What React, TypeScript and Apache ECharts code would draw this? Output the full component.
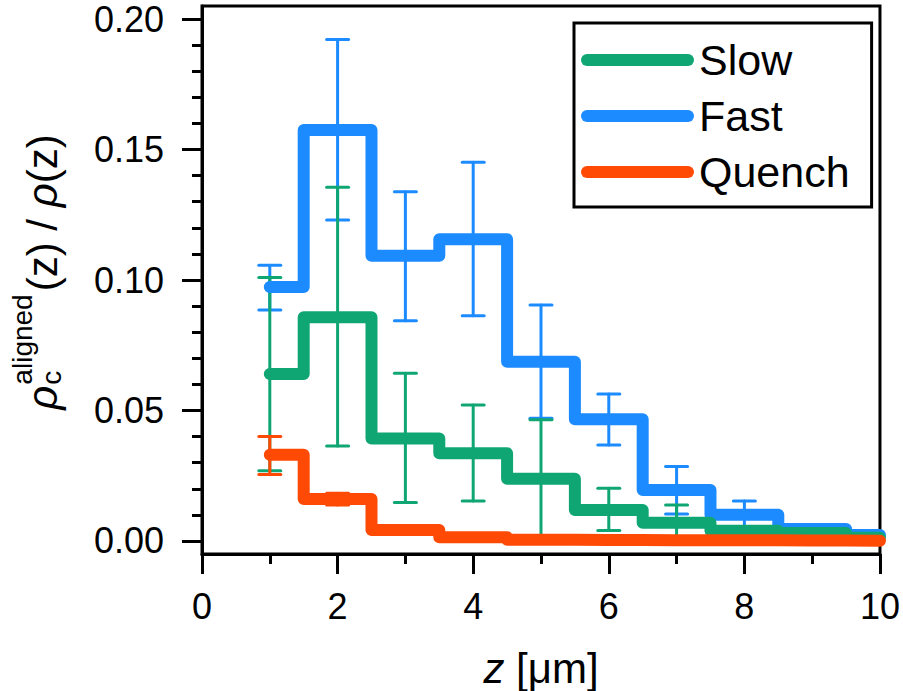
import React, { useEffect, useRef } from "react";
import * as echarts from "echarts";

const FONT = '"Liberation Sans", Arial, Helvetica, sans-serif';

const seriesNames = ["Slow", "Fast", "Quench"];
const seriesColors = ["#10A674", "#1C8BFF", "#FF4A05"];

const zCenters = [1, 2, 3, 4, 5, 6, 7, 8, 9, 10];
const slowValues = [0.064, 0.0857, 0.0393, 0.0336, 0.0238, 0.0119, 0.007, 0.0039, 0.003, 0.0012];
const fastValues = [0.0973, 0.1575, 0.1093, 0.1156, 0.0687, 0.0466, 0.0195, 0.01, 0.0046, 0.0023];
const quenchValues = [0.033, 0.0161, 0.0042, 0.0014, 0.0005, 0.0004, 0.0003, 0.0003, 0.0002, 0.0001];

const errZ = [1, 2, 3, 4, 5, 6, 7, 8, 9];
const slowLow = [0.0269, 0.0364, 0.0147, 0.0153, 0.0012, 0.004, 0.0002, 0.0023, 0.002];
const slowHigh = [0.101, 0.1355, 0.0643, 0.0521, 0.0464, 0.0202, 0.0138, 0.0055, 0.004];
const fastLow = [0.0885, 0.123, 0.0844, 0.0863, 0.047, 0.0368, 0.0103, 0.0047, 0.0033];
const fastHigh = [0.1057, 0.1922, 0.1338, 0.1451, 0.0904, 0.0563, 0.0285, 0.0153, 0.0059];
const quenchLow = [0.0255, 0.0138, 0.0035, 0.001, 0.0003, 0.0002, 0.0002, 0.0002, 0.0001];
const quenchHigh = [0.04, 0.0183, 0.0049, 0.0018, 0.0007, 0.0006, 0.0004, 0.0004, 0.0003];

const xTicks = [0, 2, 4, 6, 8, 10];
const yMajorTicks = [0, 0.05, 0.1, 0.15, 0.2];
const yMinorTicks = [0.01, 0.02, 0.03, 0.04, 0.06, 0.07, 0.08, 0.09, 0.11, 0.12, 0.13, 0.14, 0.16, 0.17, 0.18, 0.19];

const Y_MIN = -0.005;
const Y_MAX = 0.205;

function lineSeries(name: string, color: string, values: number[]) {
  return {
    name,
    type: "line",
    step: "middle",
    color,
    showSymbol: false,
    symbol: "none",
    xAxisIndex: 0,
    yAxisIndex: 0,
    data: zCenters.map((z, i) => [z, values[i]]),
    lineStyle: { width: 12, color, cap: "round", join: "round" },
  };
}

function errSeries(name: string, color: string, lows: number[], highs: number[]) {
  return {
    name: name + " error",
    type: "custom",
    xAxisIndex: 0,
    yAxisIndex: 0,
    data: errZ.map((z, i) => [z, lows[i], highs[i]]),
    encode: { x: 0, y: [1, 2] },
    renderItem: (params: any, api: any) => {
      const x = api.value(0);
      const pLo = api.coord([x, api.value(1)]);
      const pHi = api.coord([x, api.value(2)]);
      const hw = 11;
      const st = { stroke: color, lineWidth: 3, lineCap: "round" };
      return {
        type: "group",
        children: [
          { type: "line", shape: { x1: pHi[0], y1: pHi[1], x2: pLo[0], y2: pLo[1] }, style: st },
          { type: "line", shape: { x1: pHi[0] - hw, y1: pHi[1], x2: pHi[0] + hw, y2: pHi[1] }, style: st },
          { type: "line", shape: { x1: pLo[0] - hw, y1: pLo[1], x2: pLo[0] + hw, y2: pLo[1] }, style: st },
        ],
      };
    },
  };
}

export default function App() {
  const ref = useRef<HTMLDivElement>(null);

  useEffect(() => {
    document.body.style.margin = "0";
    if (!ref.current) return;
    const chart = echarts.init(ref.current, undefined, { renderer: "svg" });

    const canvas = document.createElement("canvas");
    const ctx = canvas.getContext("2d")!;
    const mw = (t: string, size: number, italic = false) => {
      ctx.font = `${italic ? "italic " : ""}${size}px ${FONT}`;
      return ctx.measureText(t).width;
    };
    const F = 42;
    const S = 28;
    const wr = mw("ρ", F, true);
    const wa = mw("aligned", S);
    const wc = mw("c", S);
    const w1 = mw("(z) / ", F);
    const w3 = mw("(z)", F);
    const wsup = Math.max(wa, wc);
    const W = wr + 1 + wsup + 3 + w1 + wr + w3;
    const x0 = -W / 2;
    const tStyle = (text: string, size: number, italic = false) => ({
      text,
      fontSize: size,
      fontFamily: FONT,
      fontStyle: italic ? "italic" : "normal",
      fill: "#000",
      align: "left",
      verticalAlign: "middle",
    });

    const yTitle = {
      type: "group",
      x: 42,
      y: 272,
      rotation: Math.PI / 2,
      children: [
        { type: "text", x: x0, y: 0, style: tStyle("ρ", F, true) },
        { type: "text", x: x0 + wr + 1, y: -20, style: tStyle("aligned", S) },
        { type: "text", x: x0 + wr + 1, y: 9, style: tStyle("c", S) },
        { type: "text", x: x0 + wr + 1 + wsup + 3, y: 0, style: tStyle("(z) / ", F) },
        { type: "text", x: x0 + wr + 1 + wsup + 3 + w1, y: 0, style: tStyle("ρ", F, true) },
        { type: "text", x: x0 + wr + 1 + wsup + 3 + w1 + wr, y: 0, style: tStyle("(z)", F) },
      ],
    };

    const xTitle = {
      type: "text",
      x: 541,
      y: 668,
      style: {
        text: "{i|z} [μm]",
        fontSize: F,
        fontFamily: FONT,
        fill: "#000",
        align: "center",
        verticalAlign: "middle",
        rich: {
          i: { fontStyle: "italic", fontSize: F, fontFamily: FONT, fill: "#000" },
        },
      },
    };

    const axisText = { fontSize: 36, fontFamily: FONT, color: "#000" };
    const blackLine = { color: "#000", width: 3 };

    chart.setOption({
      animation: false,
      backgroundColor: "#fff",
      textStyle: { fontFamily: FONT },
      grid: {
        left: 202,
        top: 6,
        right: 23,
        bottom: 137,
        show: true,
        borderColor: "#000",
        borderWidth: 3,
        backgroundColor: "transparent",
        containLabel: false,
      },
      legend: {
        data: seriesNames,
        orient: "vertical",
        left: 574,
        top: 23,
        padding: [15, 22, 13, 7],
        itemGap: 12,
        itemWidth: 113,
        itemHeight: 12,
        icon: "path://M6,0L107,0A6,6,0,0,1,107,12L6,12A6,6,0,0,1,6,0Z",
        itemStyle: { borderWidth: 0 },
        borderColor: "#000",
        borderWidth: 3,
        backgroundColor: "#fff",
        selectedMode: false,
        textStyle: { fontSize: 43, lineHeight: 44, fontFamily: FONT, color: "#000" },
      },
      xAxis: {
        type: "value",
        min: xTicks[0],
        max: xTicks[xTicks.length - 1],
        interval: 2,
        axisLine: { show: true, onZero: false, lineStyle: blackLine },
        axisTick: { show: true, length: 20, lineStyle: blackLine },
        minorTick: { show: true, splitNumber: 2, length: 10, lineStyle: blackLine },
        axisLabel: { ...axisText, margin: 34 },
        splitLine: { show: false },
        minorSplitLine: { show: false },
      },
      yAxis: [
        {
          type: "value",
          min: Y_MIN,
          max: Y_MAX,
          position: "left",
          axisLine: { show: true, onZero: false, lineStyle: blackLine },
          axisTick: { show: true, length: 20, lineStyle: blackLine, customValues: yMajorTicks },
          axisLabel: {
            ...axisText,
            margin: 38,
            customValues: yMajorTicks,
            formatter: (v: number) => v.toFixed(2),
          },
          splitLine: { show: false },
        },
        {
          type: "value",
          min: Y_MIN,
          max: Y_MAX,
          position: "left",
          offset: 0,
          axisLine: { show: false },
          axisTick: { show: true, length: 10, lineStyle: blackLine, customValues: yMinorTicks },
          axisLabel: { show: false, customValues: yMinorTicks },
          splitLine: { show: false },
        },
      ],
      series: [
        lineSeries(seriesNames[1], seriesColors[1], fastValues),
        lineSeries(seriesNames[0], seriesColors[0], slowValues),
        lineSeries(seriesNames[2], seriesColors[2], quenchValues),
        errSeries(seriesNames[1], seriesColors[1], fastLow, fastHigh),
        errSeries(seriesNames[0], seriesColors[0], slowLow, slowHigh),
        errSeries(seriesNames[2], seriesColors[2], quenchLow, quenchHigh),
      ],
      graphic: [yTitle, xTitle],
    });

    return () => chart.dispose();
  }, []);

  return <div ref={ref} style={{ width: 903, height: 691 }} />;
}
